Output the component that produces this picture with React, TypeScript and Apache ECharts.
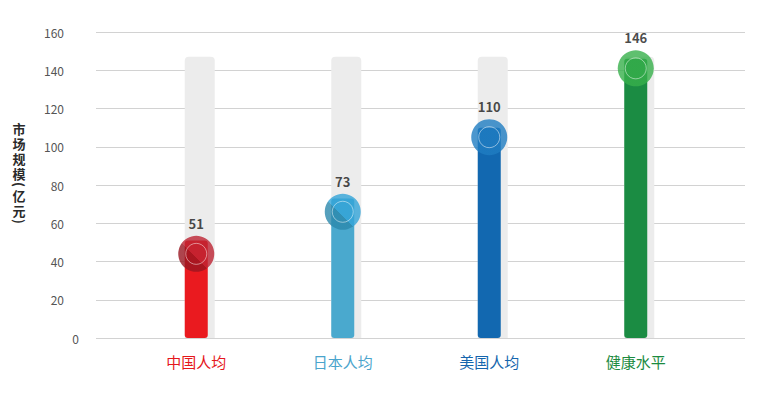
import React, { useEffect, useRef } from "react";
import * as echarts from "echarts";

const categories = ["中国人均", "日本人均", "美国人均", "健康水平"];
const values = [51, 73, 110, 146];
const markerLevels = [44, 66, 105, 141];
const backgroundLevels = [147, 147, 147, 147];
const yTicks = { min: 0, max: 160, interval: 20 };
const yAxisNameMain = "市场规模";
const yAxisNameUnit = "亿元";

const barColors = ["#ea1a1f", "#4aa9ce", "#1268b0", "#1b8c43"];
const labelColors = ["#e5171c", "#4aa4cc", "#1565ad", "#1c8b3f"];
const circleTop = ["#bd2433", "#33a4d8", "#1f7dc2", "#37b04b"];
const circleShade = ["#991520", "#2b88ac", "#1f7dc2", "#37b04b"];

const FONT = "'Noto Sans CJK SC', 'Noto Sans', sans-serif";

const nameStyle = {
  fontSize: 13,
  fontWeight: "bold",
  fontFamily: FONT,
  fill: "#2a2a2a",
  align: "center",
  lineHeight: 15,
};

function buildName(): any[] {
  return [
    {
      type: "text",
      x: 19,
      y: 121,
      style: { ...nameStyle, text: yAxisNameMain.split("").join("\n"), verticalAlign: "top" },
    },
    {
      type: "text",
      x: 19,
      y: 184.5,
      rotation: -Math.PI / 2,
      style: { ...nameStyle, text: "(", verticalAlign: "middle" },
    },
    {
      type: "text",
      x: 19,
      y: 188,
      style: { ...nameStyle, text: yAxisNameUnit.split("").join("\n"), verticalAlign: "top" },
    },
    {
      type: "text",
      x: 19,
      y: 221.5,
      rotation: -Math.PI / 2,
      style: { ...nameStyle, text: ")", verticalAlign: "middle" },
    },
  ];
}

export default function App() {
  const ref = useRef<HTMLDivElement>(null);
  useEffect(() => {
    if (!ref.current) return;
    const chart = echarts.init(ref.current, null, { renderer: "svg" });
    const option: any = {
      animation: false,
      backgroundColor: "#ffffff",
      grid: [
        { left: 96, right: 15, top: 32, bottom: 60 },
        { left: 123, right: 51, top: 32, bottom: 60 },
      ],
      xAxis: [
        { type: "value", gridIndex: 0, show: false, min: 0, max: 1 },
        {
          type: "category",
          gridIndex: 1,
          data: categories,
          axisLine: { show: false },
          axisTick: { show: false },
          axisLabel: {
            margin: 16,
            fontSize: 15,
            fontFamily: FONT,
            color: (v: string) => labelColors[categories.indexOf(v)],
          },
        },
      ],
      yAxis: [
        {
          type: "value",
          gridIndex: 0,
          min: yTicks.min,
          max: yTicks.max,
          interval: yTicks.interval,
          axisLine: { show: false },
          axisTick: { show: false },
          splitLine: { lineStyle: { color: "#d2d2d2", width: 1 } },
          axisLabel: {
            margin: 17,
            fontSize: 12,
            fontFamily: FONT,
            color: "#555",
            formatter: (v: number) => (v === 0 ? "{z|0}" : "{n|" + v + "}"),
            rich: {
              z: { fontSize: 12, fontFamily: FONT, color: "#555" },
              n: { fontSize: 12, fontFamily: FONT, color: "#555", padding: [0, 15, 0, 0] },
            },
          },
        },
        {
          type: "value",
          gridIndex: 1,
          min: yTicks.min,
          max: yTicks.max,
          interval: yTicks.interval,
          show: false,
          splitLine: { show: false },
        },
      ],
      graphic: buildName(),
      series: [
        {
          type: "bar",
          xAxisIndex: 1,
          yAxisIndex: 1,
          data: backgroundLevels,
          barWidth: 30,
          barGap: "-100%",
          silent: true,
          itemStyle: { color: "#ececec", borderRadius: [4, 4, 0, 0] },
          z: 1,
        },
        {
          type: "bar",
          xAxisIndex: 1,
          yAxisIndex: 1,
          data: values.map((v, i) => ({
            value: v,
            itemStyle: { color: barColors[i] },
          })),
          barWidth: 23,
          barGap: "-100%",
          itemStyle: { borderRadius: 3 },
          z: 2,
        },
        {
          type: "scatter",
          xAxisIndex: 1,
          yAxisIndex: 1,
          symbol: "circle",
          symbolSize: 36,
          z: 3,
          data: markerLevels.map((v, i) => ({
            value: v,
            itemStyle: {
              color: new echarts.graphic.LinearGradient(1, 0, 0, 1, [
                { offset: 0, color: circleTop[i] },
                { offset: 0.56, color: circleTop[i] },
                { offset: 0.56, color: circleShade[i] },
                { offset: 1, color: circleShade[i] },
              ]),
            },
            label: {
              show: true,
              position: "top",
              distance: 6,
              formatter: String(values[i]),
              fontSize: 13,
              fontWeight: "bold",
              fontFamily: FONT,
              color: "#1a1a1a",
            },
          })),
        },
        {
          type: "scatter",
          xAxisIndex: 1,
          yAxisIndex: 1,
          symbol: "circle",
          symbolSize: 21,
          z: 4,
          silent: true,
          data: markerLevels,
          itemStyle: {
            color: "rgba(0,0,0,0)",
            borderColor: "rgba(255,255,255,0.6)",
            borderWidth: 1,
          },
        },
      ],
    };
    chart.setOption(option);
    return () => chart.dispose();
  }, []);
  return (
    <div
      ref={ref}
      style={{ position: "absolute", left: 0, top: 0, width: 760, height: 398 }}
    />
  );
}
